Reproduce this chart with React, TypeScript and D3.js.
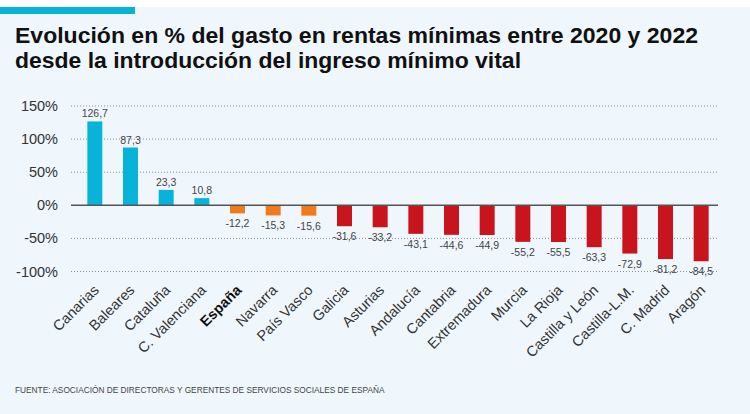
import React from "react";
import * as d3 from "d3";

const categories = ["Canarias","Baleares","Cataluña","C. Valenciana","España","Navarra","País Vasco","Galicia","Asturias","Andalucía","Cantabria","Extremadura","Murcia","La Rioja","Castilla y León","Castilla-L.M.","C. Madrid","Aragón"];
const values = [126.7,87.3,23.3,10.8,-12.2,-15.3,-15.6,-31.6,-33.2,-43.1,-44.6,-44.9,-55.2,-55.5,-63.3,-72.9,-81.2,-84.5];
const groups = ["pos","pos","pos","pos","mid","mid","mid","neg","neg","neg","neg","neg","neg","neg","neg","neg","neg","neg"];
const yTicks = [150,100,50,0,-50,-100];
const titleLines = ["Evolución en % del gasto en rentas mínimas entre 2020 y 2022","desde la introducción del ingreso mínimo vital"];
const titleWidths = [683, 506];
const source = "FUENTE: ASOCIACIÓN DE DIRECTORAS Y GERENTES DE SERVICIOS SOCIALES DE ESPAÑA";

const colors: Record<string, string> = { pos: "#08b3da", mid: "#ee7b1e", neg: "#c8141d" };

export default function App() {
  const W = 750, H = 414;
  const x = d3.scaleBand<string>().domain(categories).range([77, 719]).paddingInner(0.58).paddingOuter(0.29);
  const y = d3.scaleLinear().domain([-100, 150]).range([271.5, 106]);
  const fmt = (v: number) => d3.format(".1f")(v).replace(".", ",").replace("\u2212", "-");
  const font = "'Liberation Sans', Arial, sans-serif";
  return (
    <svg width={W} height={H} style={{ position: "absolute", left: 0, top: 0 }} fontFamily={font}>
      <rect x={0} y={0} width={W} height={H} fill="#ffffff" />
      <rect x={0} y={7} width={W} height={H - 7} fill="#eff7fd" />
      <rect x={0} y={7} width={135} height={7} fill="#08b3da" />
      {titleLines.map((t, i) => (
        <text key={i} x={15} y={43 + i * 25} fontSize={22} fontWeight="bold" fill="#111"
          textLength={titleWidths[i]} lengthAdjust="spacingAndGlyphs">{t}</text>
      ))}
      {yTicks.map((t) => (
        <g key={t}>
          {t !== 0 && (
            <line x1={71} x2={718} y1={y(t)} y2={y(t)} stroke="#8a8f94" strokeWidth={1} strokeDasharray="1,2" />
          )}
          <text x={58} y={y(t) + 5} textAnchor="end" fontSize={14.5} fill="#333">{t}%</text>
        </g>
      ))}
      {categories.map((c, i) => {
        const v = values[i];
        const bx = x(c)!;
        const y0 = y(Math.max(0, v));
        const y1 = y(Math.min(0, v));
        const cx = bx + x.bandwidth() / 2;
        return (
          <g key={c}>
            <rect x={bx} y={y0} width={x.bandwidth()} height={y1 - y0} fill={colors[groups[i]]} />
            <text x={cx} y={v >= 0 ? y0 - 4 : y1 + 14} textAnchor="middle" fontSize={10.5} fill="#444">{fmt(v)}</text>
            <text transform={`translate(${cx + 5},${291}) rotate(-45)`} textAnchor="end" fontSize={14.5}
              fontWeight={c === "España" ? "bold" : "normal"} fill={c === "España" ? "#111" : "#333"}>{c}</text>
          </g>
        );
      })}
      <line x1={71} x2={718} y1={y(0)} y2={y(0)} stroke="#555" strokeWidth={1.5} />
      <text x={15} y={393} fontSize={8.3} fill="#444">{source}</text>
    </svg>
  );
}
